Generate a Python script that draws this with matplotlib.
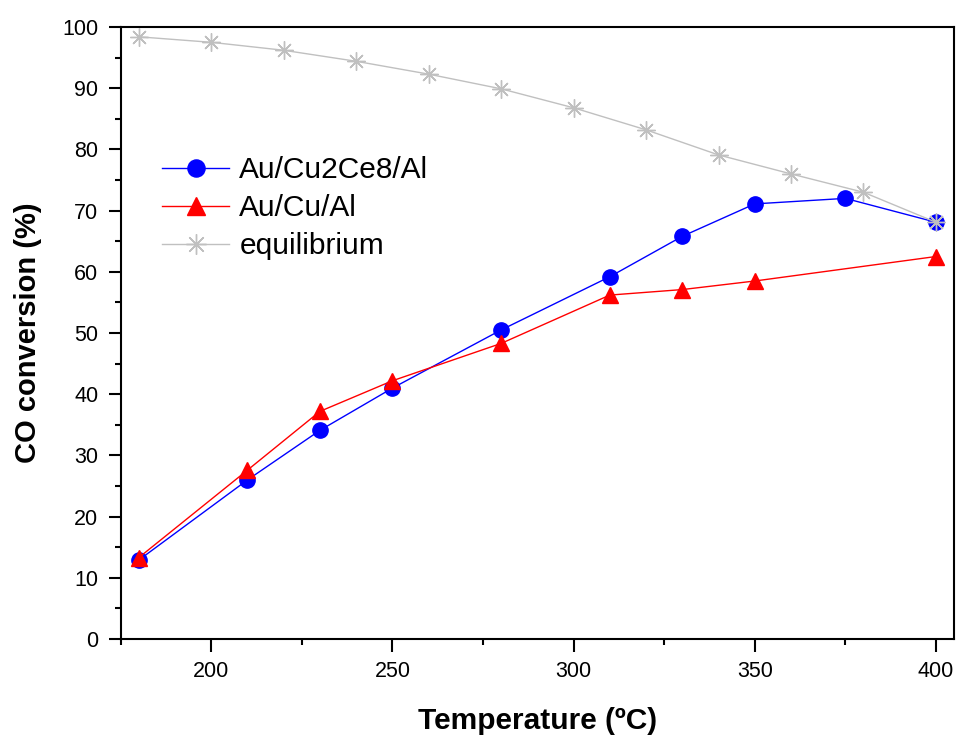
import matplotlib.pyplot as plt
from matplotlib.ticker import MultipleLocator

plt.rcParams['font.family'] = ['Liberation Sans', 'DejaVu Sans']

# equilibrium curve
eq_temp = [180, 200, 220, 240, 260, 280, 300, 320, 340, 360, 380, 400]
eq_conv = [98.4, 97.5, 96.2, 94.4, 92.3, 89.9, 86.8, 83.2, 79.1, 76.0, 73.0, 68.1]

# Au/Cu2Ce8/Al
cuce_temp = [180, 210, 230, 250, 280, 310, 330, 350, 375, 400]
cuce_conv = [12.9, 26.0, 34.1, 41.0, 50.5, 59.2, 65.8, 71.1, 72.0, 68.1]

# Au/Cu/Al
cu_temp = [180, 210, 230, 250, 280, 310, 330, 350, 400]
cu_conv = [13.3, 27.6, 37.2, 42.2, 48.3, 56.2, 57.1, 58.5, 62.5]

fig = plt.figure(figsize=(9.63, 7.38), dpi=100)
ax = fig.add_axes([0.1253, 0.1341, 0.8654, 0.8293])

ax.plot(cuce_temp, cuce_conv, color='blue', lw=1, marker='o', ms=11,
        label='Au/Cu2Ce8/Al', zorder=3)
ax.plot(cu_temp, cu_conv, color='red', lw=1, marker='^', ms=12,
        label='Au/Cu/Al', zorder=3)
ax.plot(eq_temp, eq_conv, color='#c0c0c0', lw=1, marker=(8, 2, 0), ms=13,
        mew=1, label='equilibrium', zorder=4)

ax.set_xlim(175, 405)
ax.set_ylim(0, 100)
ax.xaxis.set_major_locator(MultipleLocator(50))
ax.xaxis.set_minor_locator(MultipleLocator(25))
ax.yaxis.set_major_locator(MultipleLocator(10))
ax.yaxis.set_minor_locator(MultipleLocator(5))
ax.tick_params(which='both', direction='out', width=1.5, labelsize=15.5, pad=7)
ax.tick_params(which='major', length=9)
ax.tick_params(which='minor', length=4)
for s in ax.spines.values():
    s.set_linewidth(1.5)

ax.set_xlabel('Temperature (ºC)', fontsize=21.5, fontweight='bold', labelpad=18)
ax.set_ylabel('CO conversion (%)', fontsize=21, fontweight='bold', labelpad=14.5)

ax.legend(loc='upper left', bbox_to_anchor=(0.017, 0.833), frameon=False,
          fontsize=21.5, handlelength=2.27, handletextpad=0.33,
          labelspacing=0.34, markerscale=1.12)

fig.savefig('out.png', dpi=100)
